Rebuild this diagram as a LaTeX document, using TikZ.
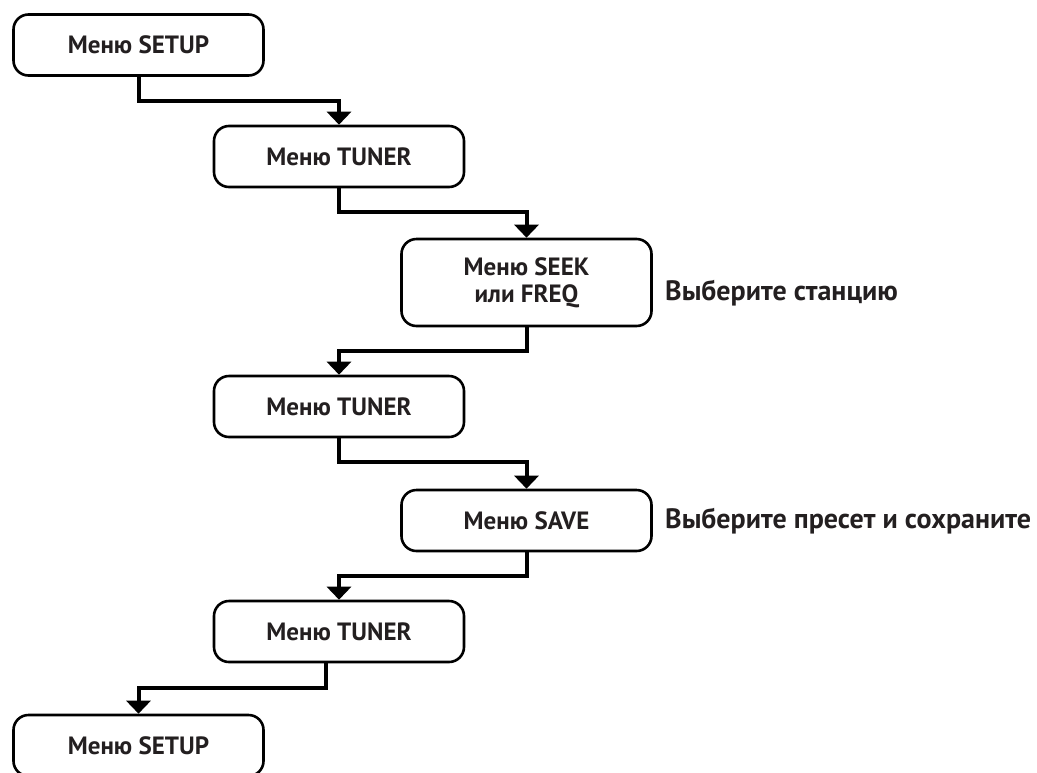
\documentclass[tikz,border=0pt]{standalone}
\usepackage{fontspec}
\setmainfont{PT Sans}
\usetikzlibrary{arrows.meta}
\definecolor{inktext}{RGB}{35,31,32}

\begin{document}
\begin{tikzpicture}[x=1pt,y=-1pt,
    menu/.style={draw,line width=2.6pt,rounded corners=15pt,minimum width=250pt,minimum height=61pt,align=center,text=inktext,font=\fontsize{25}{27}\selectfont\bfseries},
    hint/.style={anchor=base west,inner sep=0pt,text=inktext,font=\fontsize{28}{32}\selectfont\bfseries},
    conn/.style={line width=4pt,-{Triangle[width=24pt,length=13pt]}}]
\useasboundingbox (0,0) rectangle (1037,772);

\node[menu] (setup1) at (138.5,45) {Меню SETUP};
\node[menu] (tuner1) at (339,156.5) {Меню TUNER};
\node[menu,minimum height=87pt] (seek) at (526.5,282.5) {Меню SEEK\\или FREQ};
\node[menu] (tuner2) at (339,406.5) {Меню TUNER};
\node[menu] (save) at (526.5,520.5) {Меню SAVE};
\node[menu] (tuner3) at (339,631.5) {Меню TUNER};
\node[menu] (setup2) at (138.5,745.5) {Меню SETUP};

\node[hint] (station) at (665,300) {Выберите станцию};
\node[hint] (preset) at (665,528) {Выберите пресет и сохраните};

\draw[conn] (setup1.south) -- ++(0,24) -| (tuner1.north);
\draw[conn] (tuner1.south) -- ++(0,24) -| (seek.north);
\draw[conn] (seek.south) -- ++(0,24) -| (tuner2.north);
\draw[conn] (tuner2.south) -- ++(0,24) -| (save.north);
\draw[conn] (save.south) -- ++(0,24) -| (tuner3.north);
\draw[conn] ([xshift=-13pt]tuner3.south) -- ++(0,25) -| (setup2.north);

\end{tikzpicture}
\end{document}
